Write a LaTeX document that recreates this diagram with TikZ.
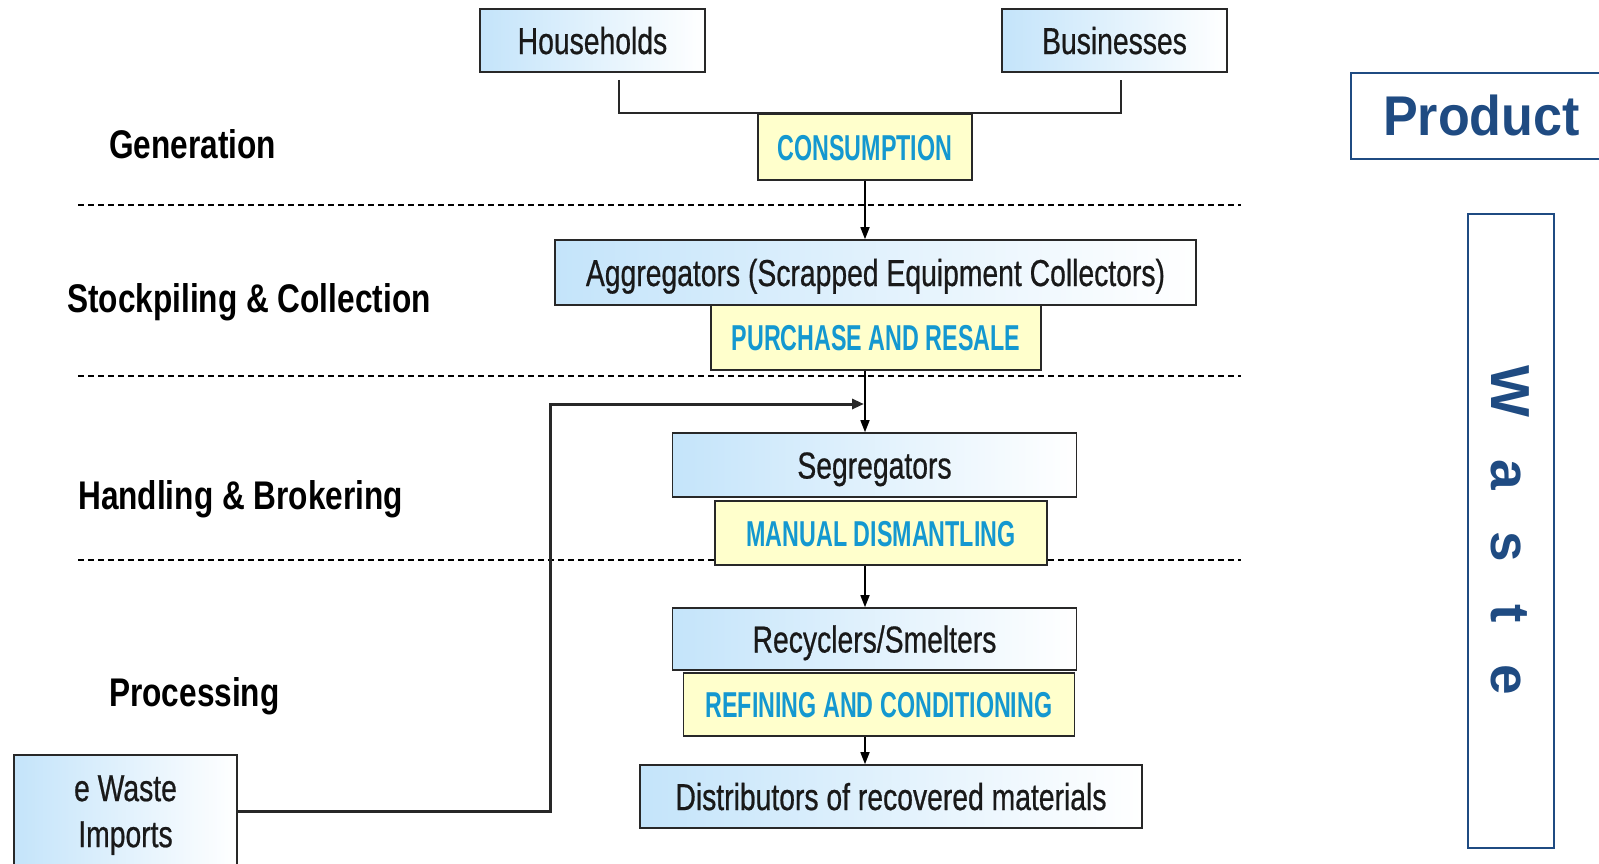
\documentclass[tikz,border=0pt]{standalone}
\usepackage{fontspec}
\setmainfont{Liberation Sans}
\newfontfamily\boxfont[FakeStretch=0.755, FakeBold=0.6]{Liberation Sans}
\newfontfamily\yelfont[FakeStretch=0.647]{Liberation Sans}
\newfontfamily\stagefont[FakeStretch=0.79]{Liberation Sans}
\newfontfamily\sidefont[FakeStretch=0.93]{Liberation Sans}
\usetikzlibrary{arrows.meta}
\definecolor{boxblue}{RGB}{196,228,250}
\definecolor{yel}{RGB}{255,255,204}
\definecolor{yeltext}{RGB}{20,152,208}
\definecolor{sideblue}{RGB}{31,75,130}
\definecolor{edge}{RGB}{40,40,40}
\begin{document}
\begin{tikzpicture}[x=1pt,y=-1pt,
  bluebox/.style={draw=edge, line width=1.6pt, left color=boxblue, right color=white, inner sep=0pt,
    font=\boxfont\fontsize{37.5}{44}\selectfont, text=black!90, text height=27pt, text depth=0pt},
  multibox/.style={draw=edge, line width=1.6pt, left color=boxblue, right color=white, inner sep=0pt,
    font=\boxfont\fontsize{37.5}{46}\selectfont, text=black!90, align=center},
  yelbox/.style={draw=edge, line width=1.6pt, fill=yel, inner sep=0pt,
    font=\yelfont\bfseries\fontsize{36}{42}\selectfont, text=yeltext, text height=26pt, text depth=0pt},
  stage/.style={anchor=west, inner sep=0pt, font=\stagefont\bfseries\fontsize{40}{46}\selectfont,
    text height=28.6pt, text depth=0pt},
  conn/.style={draw=edge, line width=1.8pt},
  arr/.style={draw=black, line width=1.5pt, -{Triangle[width=9pt,length=12pt]}},
  divider/.style={black, line width=1.2pt, dash pattern=on 6pt off 4pt},
  sidebox/.style={draw=sideblue, line width=2pt, inner sep=0pt, text=sideblue},
]
\useasboundingbox (0,0) rectangle (1599,863);

% stage dividers
\draw[divider] (78,205) -- (1241,205);
\draw[divider] (78,376) -- (1241,376);
\draw[divider] (78,560) -- (1241,560);

% stage labels
\node[stage] (gen) at (109,144) {Generation};
\node[stage] (stock) at (67,298) {Stockpiling \& Collection};
\node[stage] (hand) at (78,495) {Handling \& Brokering};
\node[stage] (proc) at (109,692) {Processing};

% flow boxes
\node[bluebox, minimum width=225pt, minimum height=63pt] (hh) at (592.5,40.5) {Households};
\node[bluebox, minimum width=225pt, minimum height=63pt] (bus) at (1114.5,40.5) {Businesses};
\node[yelbox, minimum width=214pt, minimum height=66pt] (cons) at (865,147) {CONSUMPTION};
\node[bluebox, minimum width=641pt, minimum height=65pt] (agg) at (875.5,272.5) {Aggregators (Scrapped Equipment Collectors)};
\node[yelbox, minimum width=330pt, minimum height=65pt] (pur) at (876,337.5) {PURCHASE AND RESALE};
\node[bluebox, minimum width=404pt, minimum height=64pt] (seg) at (874.5,465) {Segregators};
\node[yelbox, minimum width=332pt, minimum height=64pt] (man) at (881,533) {MANUAL DISMANTLING};
\node[bluebox, minimum width=404pt, minimum height=62pt] (rec) at (874.5,639) {Recyclers/Smelters};
\node[yelbox, minimum width=391pt, minimum height=63pt] (ref) at (879,704.5) {REFINING AND CONDITIONING};
\node[bluebox, minimum width=502pt, minimum height=63pt] (dist) at (891,796.5) {Distributors of recovered materials};
\node[multibox, minimum width=223pt, minimum height=112pt] (ew) at (125.5,811) {\rule{0pt}{34pt}e Waste\\Imports};

% side boxes
\node[sidebox, minimum width=261pt, minimum height=86pt, font=\sidefont\bfseries\fontsize{56}{60}\selectfont,
  text height=40pt, text depth=0pt] (prod) at (1481.5,115.5) {Product};
\node[sidebox, rotate=-90, minimum width=634pt, minimum height=86pt, font=\bfseries\fontsize{55}{60}\selectfont,
  text height=39pt, text depth=0pt] (wbox) at (1511,530.5) {\spaceskip=42pt W a s t e};

% connectors
\coordinate (spine) at (865,0);
\coordinate (bend) at (550,404);
\coordinate (merge) at (864,404);
\draw[conn] ([xshift=26.5pt,yshift=-7pt]hh.south) |- (cons.north) -| ([xshift=6.5pt,yshift=-7pt]bus.south);
\draw[arr] (cons.south) -- (cons.south |- agg.north);
\draw[arr] (pur.south -| spine) -- (seg.north -| spine);
\draw[arr] (man.south -| spine) -- (rec.north -| spine);
\draw[arr] (ref.south -| spine) -- (dist.north -| spine);
\draw[conn, line width=3pt, -{Triangle[width=10pt,length=12pt]}] (ew.east) -| (bend) -- (merge);
\end{tikzpicture}
\end{document}
